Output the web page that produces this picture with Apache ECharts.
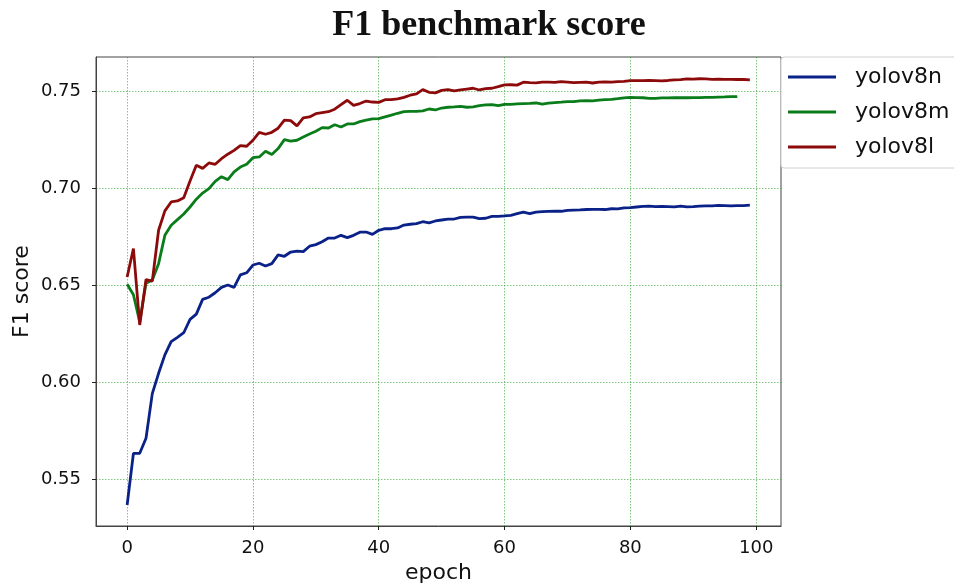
<!DOCTYPE html>
<html>
<head>
<meta charset="utf-8">
<script src="https://cdn.jsdelivr.net/npm/echarts@6/dist/echarts.min.js"></script>
<style>html,body{margin:0;padding:0;background:#fff;overflow:hidden;}#chart{width:954px;height:585px;}</style>
</head>
<body>
<div id="chart"></div>
<script>
const xTicks = [0, 20, 40, 60, 80, 100];
const yTicks = [0.55, 0.60, 0.65, 0.70, 0.75];
const seriesNames = ['yolov8n', 'yolov8m', 'yolov8l'];

const yolov8n = [
0.5366,0.5632,0.5633,0.571,0.594,0.6045,0.614,0.6208,0.623,0.6254,
0.6323,0.635,0.6426,0.6437,0.646,0.6488,0.650,0.6488,0.6552,0.6563,
0.6603,0.6612,0.6598,0.661,0.6655,0.6648,0.667,0.6675,0.6672,0.670,
0.6708,0.6723,0.6742,0.6742,0.6756,0.6744,0.6756,0.6772,0.6773,0.6761,
0.6782,0.679,0.679,0.6794,0.6809,0.6813,0.6816,0.6826,0.682,0.683,
0.6835,0.6839,0.684,0.6849,0.685,0.685,0.6842,0.6844,0.6854,0.6854,
0.6856,0.6859,0.6868,0.6876,0.6868,0.6876,0.6878,0.6879,0.688,0.688,
0.6885,0.6886,0.6887,0.6889,0.689,0.689,0.6889,0.6893,0.6892,0.6897,
0.6899,0.6902,0.6905,0.6907,0.6904,0.6905,0.6904,0.6903,0.6907,0.6903,
0.6904,0.6907,0.6908,0.6908,0.691,0.6909,0.6908,0.6909,0.6909,0.6912];

const yolov8m = [
0.6504,0.645,0.631,0.6509,0.6526,0.661,0.6756,0.6808,0.6837,0.6866,
0.6902,0.6942,0.6974,0.6997,0.7034,0.7058,0.7043,0.7083,0.7108,0.7122,
0.7156,0.716,0.7189,0.7172,0.7203,0.7249,0.7242,0.7246,0.7263,0.7278,
0.7292,0.7311,0.7309,0.7326,0.7314,0.733,0.733,0.7342,0.735,0.7356,
0.7357,0.7366,0.7375,0.7385,0.7393,0.7395,0.7395,0.7397,0.7407,0.7402,
0.7412,0.7416,0.7418,0.7421,0.7416,0.7418,0.7424,0.7428,0.743,0.7424,
0.7431,0.7431,0.7433,0.7435,0.7436,0.7438,0.7432,0.7437,0.744,0.7442,
0.7445,0.7445,0.7449,0.745,0.7449,0.7453,0.7455,0.7457,0.746,0.7464,
0.7467,0.7466,0.7465,0.7462,0.7462,0.7464,0.7464,0.7465,0.7466,0.7465,
0.7466,0.7466,0.7467,0.7467,0.7468,0.7469,0.7471,0.7471];

const yolov8l = [
0.6541,0.6688,0.6294,0.6528,0.652,0.6782,0.6882,0.6928,0.6933,0.695,
0.7036,0.7117,0.7101,0.7129,0.7122,0.7151,0.7174,0.7194,0.7218,0.7215,
0.7246,0.7287,0.7277,0.7287,0.7308,0.735,0.7347,0.732,0.7361,0.7366,
0.7383,0.7388,0.7393,0.7406,0.743,0.7452,0.7426,0.7435,0.7448,0.7443,
0.7441,0.7455,0.7455,0.7459,0.7467,0.7478,0.7485,0.7507,0.7493,0.749,
0.7503,0.7507,0.75,0.7505,0.751,0.7514,0.7505,0.7512,0.7514,0.7522,
0.7531,0.7532,0.753,0.7545,0.7543,0.7542,0.7545,0.7546,0.7544,0.7548,
0.7546,0.7543,0.7544,0.7545,0.7541,0.7546,0.7547,0.7546,0.7548,0.7549,
0.7553,0.7553,0.7553,0.7554,0.7553,0.7552,0.7554,0.7557,0.7558,0.7562,
0.7561,0.7563,0.7562,0.756,0.7561,0.756,0.756,0.7559,0.7559,0.7557];

const colors = ['#0a2288', '#0a7d1a', '#8c0a0a'];
const toPairs = arr => arr.map((v, i) => [i, v]);
const allSeries = [yolov8n, yolov8m, yolov8l];

const chart = echarts.init(document.getElementById('chart'), null, {renderer: 'canvas'});
const gridLine = {show: true, lineStyle: {color: 'rgba(40,160,40,0.75)', width: 0.8, type: [1.5, 1.5]}};
const sans = 'DejaVu Sans';

chart.setOption({
  animation: false,
  backgroundColor: '#fff',
  title: {
    text: 'F1 benchmark score',
    left: 484, top: 3, textAlign: 'center',
    textStyle: {fontFamily: 'Liberation Serif', fontWeight: 'bold', fontSize: 36, color: '#111'}
  },
  legend: {
    data: seriesNames,
    orient: 'vertical',
    left: 781, top: 57,
    padding: [9, 40, 10, 7],
    itemGap: 13,
    itemWidth: 48, itemHeight: 3,
    icon: 'rect',
    backgroundColor: '#fff',
    borderColor: '#d0d0d0', borderWidth: 1, borderRadius: 3,
    textStyle: {fontFamily: sans, fontSize: 22, color: '#111', lineHeight: 22, padding: [0, 0, 0, 14]}
  },
  grid: {left: 96, right: 173, top: 57, bottom: 59, containLabel: false, outerBoundsMode: 'none',
    show: true, borderColor: '#444', borderWidth: 1, backgroundColor: 'transparent'},
  xAxis: {
    type: 'value', min: -4.95, max: 103.95,
    name: 'epoch', nameLocation: 'middle', nameGap: 36, nameMoveOverlap: false,
    nameTextStyle: {fontFamily: sans, fontSize: 22, color: '#111'},
    axisLine: {show: true, onZero: false, lineStyle: {color: '#444', width: 1}},
    axisTick: {show: true, length: 4, customValues: xTicks, lineStyle: {color: '#222'}},
    axisLabel: {customValues: xTicks, margin: 13, fontFamily: sans, fontSize: 18, color: '#111'},
    splitLine: gridLine
  },
  yAxis: {
    type: 'value', min: 0.5258, max: 0.7675,
    name: 'F1 score', nameLocation: 'middle', nameGap: 63, nameMoveOverlap: false,
    nameTextStyle: {fontFamily: sans, fontSize: 22, color: '#111'},
    axisLine: {show: true, onZero: false, lineStyle: {color: '#444', width: 1}},
    axisTick: {show: true, length: 4, customValues: yTicks, lineStyle: {color: '#222'}},
    axisLabel: {customValues: yTicks, margin: 15, fontFamily: sans, fontSize: 18, color: '#111',
      formatter: v => v.toFixed(2)},
    splitLine: gridLine
  },
  series: seriesNames.map((name, k) => ({
    name: name, type: 'line', data: toPairs(allSeries[k]),
    showSymbol: false, symbol: 'none',
    lineStyle: {color: colors[k], width: 2.8},
    itemStyle: {color: colors[k]}
  }))
});
</script>
</body>
</html>
